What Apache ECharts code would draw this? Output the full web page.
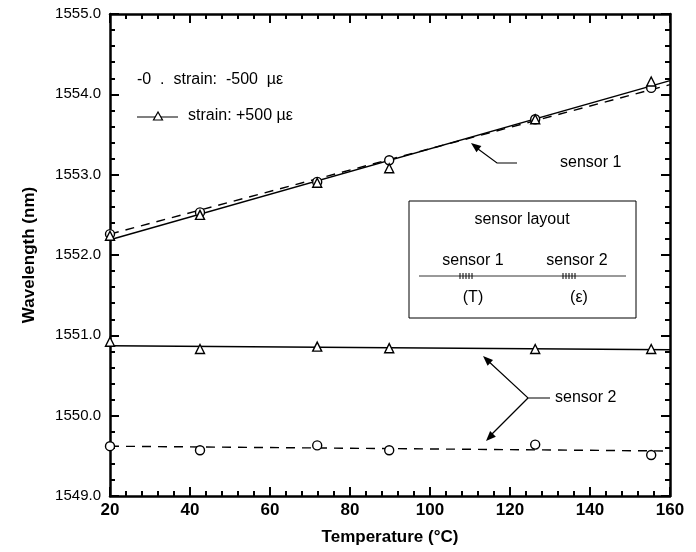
<!DOCTYPE html>
<html>
<head>
<meta charset="utf-8">
<script src="https://cdn.jsdelivr.net/npm/echarts@6/dist/echarts.min.js"></script>
<style>
  html, body { margin: 0; padding: 0; background: #fff; }
  #chart { width: 696px; height: 552px; }
</style>
</head>
<body>
<div id="chart"></div>
<script>
// temperatures of the measurements (°C)
const temps = [20, 42.5, 71.8, 89.8, 126.3, 155.3];

// sensor 1 (temperature sensor)
const s1Minus = [1552.26, 1552.53, 1552.91, 1553.18, 1553.69, 1554.08]; // circles, -500 µε
const s1Plus = [1552.24, 1552.50, 1552.90, 1553.08, 1553.69, 1554.16];  // triangles, +500 µε
const s1FitPlus = [[20, 1552.19], [160, 1554.17]];
const s1FitMinus = [[20, 1552.26], [160, 1554.12]];

// sensor 2 (strain sensor)
const s2Plus = [1550.92, 1550.83, 1550.86, 1550.84, 1550.83, 1550.83];
const s2Minus = [1549.62, 1549.57, 1549.63, 1549.57, 1549.64, 1549.51];
const s2FitPlus = [[20, 1550.87], [160, 1550.82]];
const s2FitMinus = [[20, 1549.62], [160, 1549.56]];

const pairs = vals => temps.map((t, i) => [t, vals[i]]);

const FONT = '"Liberation Sans", Arial, sans-serif';
const NARROW = '"Liberation Sans Narrow", "Liberation Sans", Arial, sans-serif';

const myChart = echarts.init(document.getElementById('chart'));

const axisCommon = {
  type: 'value',
  axisLine: {show: true, lineStyle: {color: '#000', width: 2.5}},
  axisTick: {show: true, inside: true, length: 9, lineStyle: {color: '#000', width: 2}},
  minorTick: {show: true, splitNumber: 5, length: 5, lineStyle: {color: '#000', width: 2}},
  splitLine: {show: false},
  minorSplitLine: {show: false}
};

const scatter = (data, symbol) => ({
  type: 'line',
  data: data,
  symbol: symbol,
  symbolSize: 9,
  showSymbol: true,
  lineStyle: {width: 0, opacity: 0},
  itemStyle: {color: '#fff', borderColor: '#000', borderWidth: 1.4},
  z: 5,
  silent: true
});

const fit = (data, dashed) => ({
  type: 'line',
  data: data,
  symbol: 'none',
  lineStyle: {color: '#000', width: 1.4, type: dashed ? [9, 7] : 'solid'},
  silent: true
});

// small grating marks for the sensor layout sketch
function grating(x0, y) {
  const out = [];
  for (let i = 0; i < 5; i++) {
    out.push({type: 'line', shape: {x1: x0 + i * 3, y1: y - 3, x2: x0 + i * 3, y2: y + 3},
      style: {stroke: '#000', lineWidth: 1}});
  }
  return out;
}

function arrowHead(tipX, tipY, fromX, fromY) {
  const a = Math.atan2(tipY - fromY, tipX - fromX);
  const L = 10, W = 4;
  const bx = tipX - L * Math.cos(a), by = tipY - L * Math.sin(a);
  return {
    type: 'polygon',
    shape: {points: [[tipX, tipY],
      [bx + W * Math.sin(a), by - W * Math.cos(a)],
      [bx - W * Math.sin(a), by + W * Math.cos(a)]]},
    style: {fill: '#000'}
  };
}

const txt = (x, y, text, size, align) => ({
  type: 'text', x: x, y: y,
  style: {text: text, font: size + 'px ' + FONT, fill: '#000',
    align: align || 'left', verticalAlign: 'middle'}
});

myChart.setOption({
  animation: false,
  backgroundColor: '#fff',
  grid: {left: 110, right: 26, top: 14, bottom: 56},
  xAxis: [
    Object.assign({}, axisCommon, {
      min: 20, max: 160, interval: 20, position: 'bottom',
      axisLabel: {color: '#000', fontFamily: NARROW, fontWeight: 'bold', fontSize: 17, margin: 6},
      name: 'Temperature (°C)', nameLocation: 'middle', nameGap: 33,
      nameTextStyle: {color: '#000', fontFamily: FONT, fontWeight: 'bold', fontSize: 17}
    }),
    Object.assign({}, axisCommon, {
      min: 20, max: 160, interval: 20, position: 'top',
      axisLabel: {show: false}
    })
  ],
  yAxis: [
    Object.assign({}, axisCommon, {
      min: 1549, max: 1555, interval: 1, position: 'left',
      axisLabel: {color: '#000', fontFamily: FONT, fontSize: 15, margin: 9,
        formatter: v => v.toFixed(1)},
      name: 'Wavelength (nm)', nameLocation: 'middle', nameGap: 72,
      nameTextStyle: {color: '#000', fontFamily: FONT, fontWeight: 'bold', fontSize: 17}
    }),
    Object.assign({}, axisCommon, {
      min: 1549, max: 1555, interval: 1, position: 'right',
      axisLabel: {show: false}
    })
  ],
  series: [
    fit(s1FitPlus, false),
    fit(s1FitMinus, true),
    fit(s2FitPlus, false),
    fit(s2FitMinus, true),
    scatter(pairs(s1Minus), 'circle'),
    scatter(pairs(s1Plus), 'triangle'),
    scatter(pairs(s2Plus), 'triangle'),
    scatter(pairs(s2Minus), 'circle')
  ],
  graphic: [
    // legend
    txt(137, 80, '-0  .  strain:  -500  µε', 16),
    {type: 'line', shape: {x1: 137, y1: 117, x2: 178, y2: 117}, style: {stroke: '#000', lineWidth: 1.2}},
    {type: 'polygon', shape: {points: [[158, 112], [153.5, 120], [162.5, 120]]},
      style: {fill: '#fff', stroke: '#000', lineWidth: 1.2}},
    txt(188, 116, 'strain: +500 µε', 16),

    // sensor 1 annotation
    txt(560, 163, 'sensor 1', 16),
    {type: 'polyline', shape: {points: [[517, 163], [497, 163], [474, 146]]},
      style: {stroke: '#000', lineWidth: 1.2, fill: null}},
    arrowHead(471, 143, 497, 163),

    // sensor 2 annotation
    txt(555, 398, 'sensor 2', 16),
    {type: 'polyline', shape: {points: [[550, 398], [528, 398], [486, 359]]},
      style: {stroke: '#000', lineWidth: 1.2, fill: null}},
    arrowHead(483, 356, 528, 398),
    {type: 'line', shape: {x1: 528, y1: 398, x2: 489, y2: 437},
      style: {stroke: '#000', lineWidth: 1.2}},
    arrowHead(486, 441, 528, 398),

    // sensor layout box
    {type: 'rect', shape: {x: 409, y: 201, width: 227, height: 117},
      style: {fill: '#fff', stroke: '#000', lineWidth: 1}, z: 10},
    Object.assign(txt(522, 220, 'sensor layout', 16, 'center'), {z: 11}),
    Object.assign(txt(473, 261, 'sensor 1', 16, 'center'), {z: 11}),
    Object.assign(txt(577, 261, 'sensor 2', 16, 'center'), {z: 11}),
    {type: 'line', shape: {x1: 419, y1: 276, x2: 626, y2: 276},
      style: {stroke: '#000', lineWidth: 0.8}, z: 11},
    ...grating(460, 276).map(g => Object.assign(g, {z: 11})),
    ...grating(563, 276).map(g => Object.assign(g, {z: 11})),
    Object.assign(txt(473, 298, '(T)', 16, 'center'), {z: 11}),
    Object.assign(txt(579, 298, '(ε)', 16, 'center'), {z: 11})
  ]
});
</script>
</body>
</html>
